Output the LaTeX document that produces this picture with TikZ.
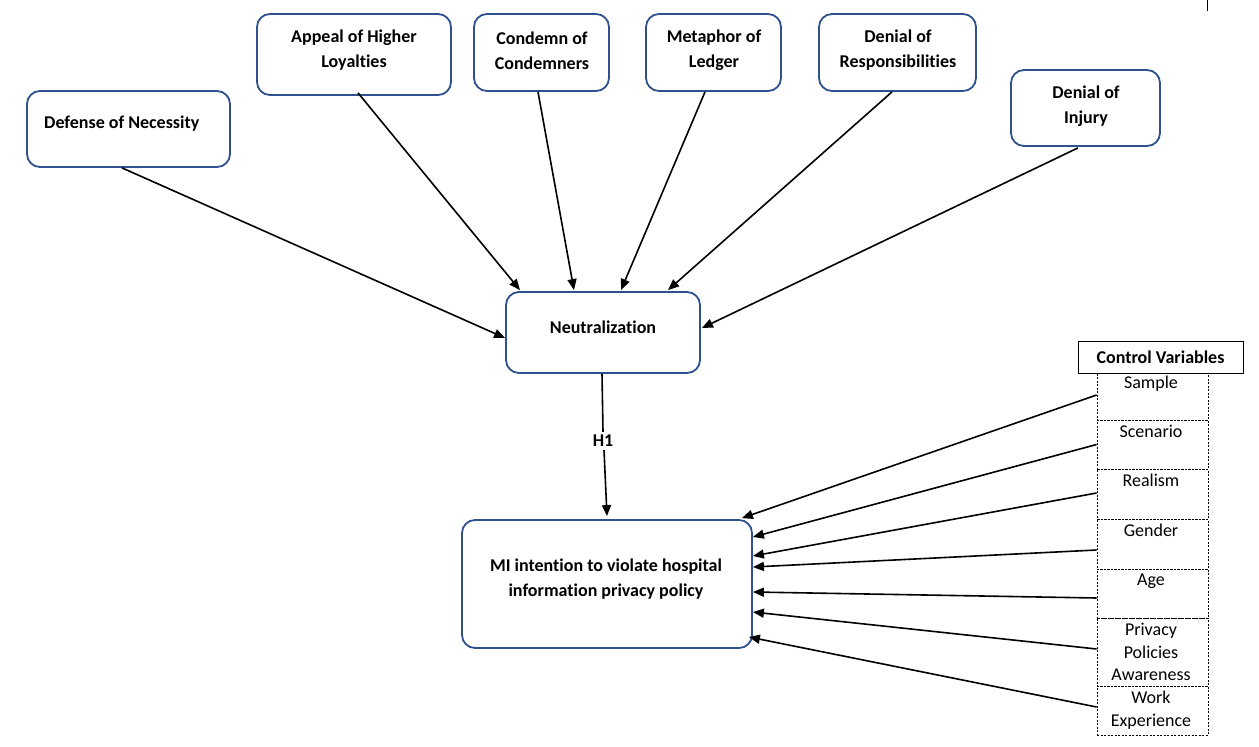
\documentclass[tikz,border=0pt]{standalone}
\usepackage{fontspec}
\setmainfont[Ligatures={NoCommon}]{Carlito}
\usetikzlibrary{arrows.meta}
\definecolor{boxblue}{HTML}{2F528F}
\tikzset{
  construct/.style={draw=boxblue, line width=1.8pt, rounded corners=13pt, fill=white,
    inner sep=0pt, minimum width=#1},
  lbl/.style={font=\fontsize{18}{25}\selectfont\bfseries, align=center, inner sep=0pt},
  cell/.style={draw=black, line width=0.8pt, dash pattern=on 2pt off 1.5pt, inner sep=0pt,
    minimum width=111pt},
  celltxt/.style={font=\fontsize{18}{22.5}\selectfont, align=center, inner sep=0pt, anchor=north},
  path/.style={line width=1.6pt, -{Triangle[length=11pt,width=9pt]}},
}
\begin{document}
\begin{tikzpicture}[x=1pt, y=-1pt]
\useasboundingbox (0,0) rectangle (1259,747);

% antecedent constructs
\node[construct=203pt, minimum height=76pt] (defense)  at (128.5,129) {};
\node[construct=194pt, minimum height=81pt] (appeal)   at (354,54.5) {};
\node[construct=135pt, minimum height=77pt] (condemn)  at (541.5,52.5) {};
\node[construct=135pt, minimum height=77pt] (metaphor) at (713.5,52.5) {};
\node[construct=157pt, minimum height=77pt] (denresp)  at (897.5,52.5) {};
\node[construct=149pt, minimum height=76pt] (deninj)   at (1085.5,108) {};

\node[lbl, anchor=west] (defense-t) at (44,124) {Defense of Necessity};
\node[lbl] (appeal-t)   at (354,50.5)  {Appeal of Higher\\Loyalties};
\node[lbl] (condemn-t)  at (542,50.5)  {Condemn of\\Condemners};
\node[lbl] (metaphor-t) at (714,50.5)  {Metaphor of\\Ledger};
\node[lbl] (denresp-t)  at (898,50.5)  {Denial of\\Responsibilities};
\node[lbl] (deninj-t)   at (1086,106.5) {Denial of\\Injury};

% mediator and outcome
\node[construct=194pt, minimum height=81pt] (neut) at (603,332.5) {};
\node[lbl] (neut-t) at (603,327) {Neutralization};
\node[construct=290pt, minimum height=128pt] (mi) at (607,584) {};
\node[lbl] (mi-t) at (606,579) {MI intention to violate hospital\\information privacy policy};

% control variables
\node[draw=black, line width=0.8pt, minimum width=165pt, minimum height=32pt, inner sep=0pt,
  font=\fontsize{18}{20}\selectfont\bfseries] (cv) at (1160.5,357) {Control Variables};
\node[cell, minimum height=47pt] (c1) at (1152.5,396.5) {};
\node[cell, minimum height=49pt] (c2) at (1152.5,444.5) {};
\node[cell, minimum height=50pt] (c3) at (1152.5,494) {};
\node[cell, minimum height=50pt] (c4) at (1152.5,544) {};
\node[cell, minimum height=49pt] (c5) at (1152.5,593.5) {};
\node[cell, minimum height=68pt] (c6) at (1152.5,652) {};
\node[cell, minimum height=49pt] (c7) at (1152.5,710.5) {};

\node[celltxt] (c1-t) at (1151,376) {Sample};
\node[celltxt] (c2-t) at (1151,425) {Scenario};
\node[celltxt] (c3-t) at (1151,474) {Realism};
\node[celltxt] (c4-t) at (1151,524) {Gender};
\node[celltxt] (c5-t) at (1151,574) {Age};
\node[celltxt] (c6-t) at (1151,623) {Privacy\\Policies\\Awareness};
\node[celltxt] (c7-t) at (1151,691) {Work\\Experience};

% paths into neutralization
\draw[path] ([xshift=-6.5pt]defense.south) -- ([yshift=-5.5pt]neut.west);
\draw[path] ([xshift=4pt,yshift=3pt]appeal.south) -- ([xshift=-83pt,yshift=1pt]neut.north);
\draw[path] ([xshift=-3.5pt]condemn.south) -- ([xshift=-29pt,yshift=1pt]neut.north);
\draw[path] ([xshift=-8.5pt]metaphor.south) -- ([xshift=18pt,yshift=1pt]neut.north);
\draw[path] ([xshift=-5.5pt]denresp.south) -- ([xshift=65pt,yshift=1pt]neut.north);
\draw[path] ([xshift=-7.5pt,yshift=-1pt]deninj.south) -- ([xshift=1pt,yshift=4.5pt]neut.east);

% hypothesis path
\node[lbl] (h1) at (603,441) {H1};
\draw[line width=1.6pt] ([xshift=-1pt]neut.south) -- ([yshift=3pt]h1.north);
\draw[path] ([xshift=1pt,yshift=-3pt]h1.south) -- ([yshift=3pt]mi.north);

% control paths
\draw[path] ([yshift=1.5pt]c1.west) -- ([xshift=-11pt,yshift=1pt]mi.north east);
\draw[path] (c2.west) -- ([yshift=47pt]mi.east);
\draw[path] ([yshift=1pt]c3.west) -- ([yshift=28pt]mi.east);
\draw[path] ([yshift=-6pt]c4.west) -- ([yshift=17pt]mi.east);
\draw[path] ([yshift=-4.5pt]c5.west) -- ([yshift=-8pt]mi.east);
\draw[path] ([yshift=3pt]c6.west) -- ([yshift=-28pt]mi.east);
\draw[path] ([yshift=3.5pt]c7.west) -- ([xshift=-4pt,yshift=-53pt]mi.east);

% short rule at the top edge
\coordinate (rule-a) at (1207,0);
\coordinate (rule-b) at (1207,11);
\draw[line width=1pt] (rule-a) -- (rule-b);
\end{tikzpicture}
\end{document}
